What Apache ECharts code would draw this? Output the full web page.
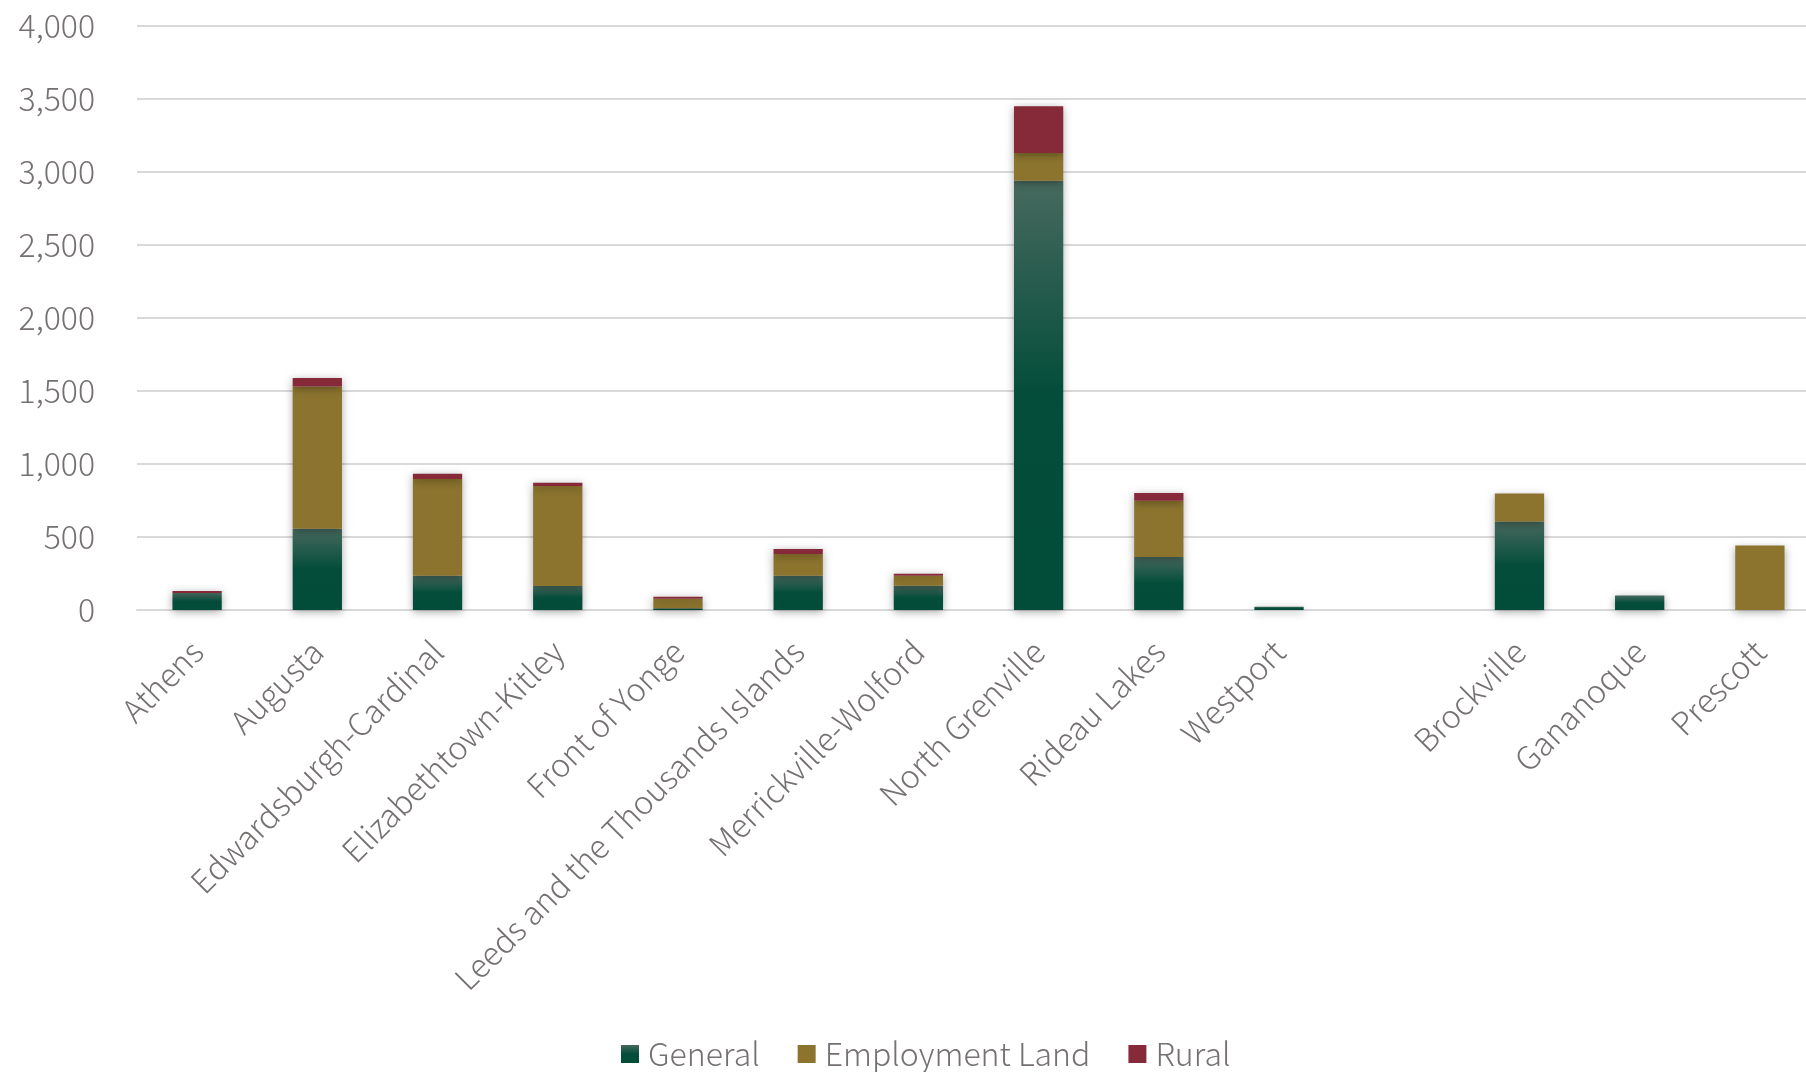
<!DOCTYPE html>
<html>
<head>
<meta charset="utf-8">
<script src="https://cdn.jsdelivr.net/npm/echarts@6/dist/echarts.min.js"></script>
<style>
html,body{margin:0;padding:0;background:#fff;overflow:hidden;width:1806px;height:1072px;}
#chart{width:1820px;height:1072px;}
</style>
</head>
<body>
<div id="chart"></div>
<script>
var categories = ["Athens","Augusta","Edwardsburgh-Cardinal","Elizabethtown-Kitley","Front of Yonge","Leeds and the Thousands Islands","Merrickville-Wolford","North Grenville","Rideau Lakes","Westport","","Brockville","Gananoque","Prescott"];
var generalValues    = [116, 556, 235, 164, 12, 234, 166, 2938, 363, 22, null, 605, 100, 0];
var employmentValues = [0, 974, 662, 685, 65, 150, 68, 190, 385, 0, null, 192, 0, 441];
var ruralValues      = [14, 59, 36, 22, 14, 34, 14, 321, 53, 0, null, 0, 0, 0];
var yTicks = [0, 500, 1000, 1500, 2000, 2500, 3000, 3500, 4000];

var FONT = '"Noto Sans CJK JP", "Noto Sans", sans-serif';
var TXT = '#767171';
var shadow = {shadowBlur: 8, shadowColor: 'rgba(0,0,0,0.35)', shadowOffsetX: 0, shadowOffsetY: 2};

var generalColor = new echarts.graphic.LinearGradient(0, 0, 0, 1, [
  {offset: 0, color: '#47695e'},
  {offset: 0.5, color: '#034d3a'},
  {offset: 1, color: '#024d3a'}
]);

var chart = echarts.init(document.getElementById('chart'), null, {renderer: 'canvas', width: 1820, height: 1072});
chart.setOption({
  backgroundColor: '#ffffff',
  animation: false,
  grid: {left: 137, right: 0, top: 25.7, bottom: 462, containLabel: false},
  legend: {
    data: ['General', 'Employment Land', 'Rural'],
    left: 621, top: 1038, padding: 0,
    itemWidth: 18, itemHeight: 18, itemGap: 38,
    icon: 'rect',
    textStyle: {fontFamily: FONT, fontSize: 32, color: TXT, fontWeight: 300, padding: [0,0,0,4]}
  },
  xAxis: {
    type: 'category',
    data: categories,
    axisLine: {show: true, lineStyle: {color: '#d9d9d9', width: 2}},
    axisTick: {show: false},
    axisLabel: {
      interval: 0, rotate: 45, margin: 36,
      fontFamily: FONT, fontSize: 32, color: TXT, fontWeight: 300
    }
  },
  yAxis: {
    type: 'value',
    min: yTicks[0], max: yTicks[yTicks.length - 1], interval: 500,
    axisLine: {show: false},
    axisTick: {show: false},
    splitLine: {lineStyle: {color: '#d9d9d9', width: 2}},
    axisLabel: {
      margin: 42,
      fontFamily: FONT, fontSize: 32, color: TXT, fontWeight: 300,
      formatter: function (v) { return v.toLocaleString('en-US'); }
    }
  },
  series: [
    {name: 'General', type: 'bar', stack: 'total', data: generalValues, barWidth: '41%',
     itemStyle: Object.assign({color: generalColor}, shadow)},
    {name: 'Employment Land', type: 'bar', stack: 'total', data: employmentValues, barWidth: '41%',
     itemStyle: Object.assign({color: '#8c742e'}, shadow)},
    {name: 'Rural', type: 'bar', stack: 'total', data: ruralValues, barWidth: '41%',
     itemStyle: Object.assign({color: '#862a3a'}, shadow)}
  ]
});
</script>
</body>
</html>
